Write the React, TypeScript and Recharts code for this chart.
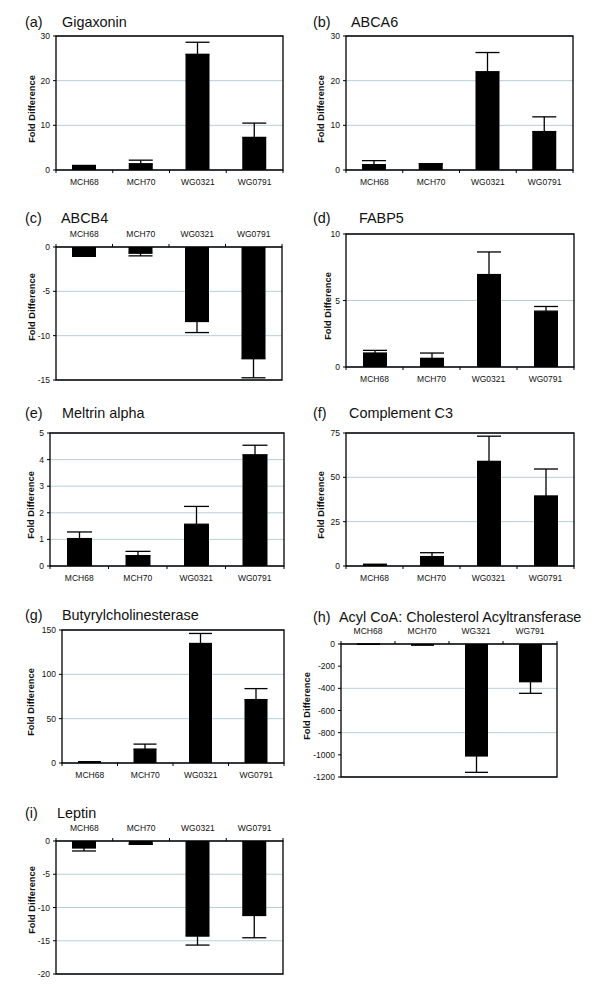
import React from "react";
import { BarChart, Bar, XAxis, YAxis, CartesianGrid, ErrorBar, ReferenceArea } from "recharts";

const samples = ["MCH68", "MCH70", "WG0321", "WG0791"];
const samplesAcat = ["MCH68", "MCH70", "WG321", "WG791"];

// fold differences and error (one-sided)
const gigaxonin = [1.0, 1.4, 25.9, 7.3];
const gigaxoninErr = [0, 0.8, 2.7, 3.2];
const abca6 = [1.2, 1.4, 22.0, 8.6];
const abca6Err = [0.9, 0, 4.3, 3.3];
const abcb4 = [-1.05, -0.7, -8.4, -12.6];
const abcb4Err = [0, 0.3, 1.25, 2.15];
const fabp5 = [1.05, 0.65, 6.95, 4.2];
const fabp5Err = [0.2, 0.4, 1.7, 0.35];
const meltrin = [1.03, 0.39, 1.57, 4.18];
const meltrinErr = [0.25, 0.16, 0.67, 0.36];
const complementC3 = [0.9, 5.3, 59, 39.5];
const complementC3Err = [0, 2.2, 14.2, 15.2];
const butyryl = [1.5, 15.7, 134.8, 71.5];
const butyrylErr = [0, 5.6, 11.3, 12.4];
const acat = [-2, -9, -1010, -340];
const acatErr = [0, 0, 148, 105];
const leptin = [-1.05, -0.5, -14.3, -11.2];
const leptinErr = [0.45, 0, 1.35, 3.35];

const ticksA = [0, 10, 20, 30];
const ticksC = [-15, -10, -5, 0];
const ticksD = [0, 5, 10];
const ticksE = [0, 1, 2, 3, 4, 5];
const ticksF = [0, 25, 50, 75];
const ticksG = [0, 50, 100, 150];
const ticksH = [-1200, -1000, -800, -600, -400, -200, 0];
const ticksI = [-20, -15, -10, -5, 0];

const FONT = "'Liberation Sans', Arial, Helvetica, sans-serif";
const GRID = "#b7cfdb";

type PanelProps = {
  tag: string;
  title: string;
  names: string[];
  values: number[];
  errors: number[];
  ticks: number[];
  left: number;
  top: number;
  width: number;
  height: number;
  tagX: number;
  titleX: number;
  titleY: number;
  labelX: number;
  labelY: number;
};

const titleStyle: React.CSSProperties = {
  position: "absolute",
  fontSize: 14.4,
  lineHeight: "15px",
  color: "#111",
  whiteSpace: "nowrap",
};

// category label plus the small Excel-style ticks between categories
function CategoryTick(props: any) {
  const { x, y, payload, index, band, neg, count } = props;
  const dir = neg ? -1 : 1;
  return (
    <g>
      <line x1={x - band / 2} x2={x - band / 2} y1={y} y2={y + dir * 3} stroke="#000" strokeWidth={1} />
      {index === count - 1 && (
        <line x1={x + band / 2} x2={x + band / 2} y1={y} y2={y + dir * 3} stroke="#000" strokeWidth={1} />
      )}
      <text x={x} y={neg ? y - 10 : y + 14.5} textAnchor="middle" fontSize={8.5} fill="#111">
        {payload.value}
      </text>
    </g>
  );
}

function Panel(p: PanelProps) {
  const neg = p.values.every((v) => v <= 0);
  const rows = p.names.map((name, i) => ({
    name,
    value: p.values[i],
    err: neg ? [p.errors[i], 0] : [0, p.errors[i]],
  }));
  const lo = p.ticks[0];
  const hi = p.ticks[p.ticks.length - 1];
  const band = p.width / p.names.length;
  const barSize = Math.round(band * 0.42);

  return (
    <>
      <div style={{ ...titleStyle, left: p.tagX, top: p.titleY - 12.5 }}>{p.tag}</div>
      <div style={{ ...titleStyle, left: p.titleX, top: p.titleY - 12.5 }}>{p.title}</div>
      <div
        style={{
          position: "absolute",
          left: p.labelX,
          top: p.labelY,
          transform: "translate(-50%, -50%) rotate(-90deg)",
          fontSize: 9.3,
          fontWeight: "bold",
          color: "#111",
          whiteSpace: "nowrap",
          lineHeight: "10px",
        }}
      >
        Fold Difference
      </div>
      <div style={{ position: "absolute", left: p.left - 60, top: p.top - 30 }}>
        <BarChart
          width={p.width + 70}
          height={p.height + 60}
          data={rows}
          margin={neg ? { top: 10, right: 10, bottom: 30, left: 0 } : { top: 30, right: 10, bottom: 10, left: 0 }}
          style={{ fontFamily: FONT }}
        >
          <CartesianGrid xAxisId="cat" yAxisId="y" vertical={false} stroke={GRID} strokeWidth={1} />
          <XAxis
            xAxisId="cat"
            dataKey="name"
            orientation={neg ? "top" : "bottom"}
            height={20}
            axisLine={false}
            tickLine={false}
            tickSize={0}
            tickMargin={0}
            interval={0}
            tick={<CategoryTick band={band} neg={neg} count={p.names.length} />}
          />
          <YAxis
            yAxisId="y"
            width={60}
            domain={[lo, hi]}
            ticks={p.ticks}
            allowDataOverflow
            axisLine={false}
            tickSize={3}
            tickMargin={3}
            tickLine={{ stroke: "#000" }}
            tick={{ fontSize: 8.5, fill: "#111" }}
          />
          <Bar dataKey="value" xAxisId="cat" yAxisId="y" fill="#000" barSize={barSize} isAnimationActive={false}>
            <ErrorBar dataKey="err" direction="y" width={barSize / 2} stroke="#000" strokeWidth={1.3} />
          </Bar>
          <ReferenceArea
            xAxisId="cat"
            yAxisId="y"
            y1={lo}
            y2={hi}
            fill="none"
            fillOpacity={0}
            stroke="#000"
            strokeWidth={1.3}
            ifOverflow="visible"
          />
        </BarChart>
      </div>
    </>
  );
}

export default function App() {
  return (
    <div style={{ position: "absolute", left: 0, top: 0, width: 600, height: 991, fontFamily: FONT, background: "#fff" }}>
      <Panel tag="(a)" title="Gigaxonin" names={samples} values={gigaxonin} errors={gigaxoninErr} ticks={ticksA}
        left={56} top={36} width={227} height={134} tagX={25} titleX={62} titleY={27} labelX={31.7} labelY={109} />
      <Panel tag="(b)" title="ABCA6" names={samples} values={abca6} errors={abca6Err} ticks={ticksA}
        left={346} top={36} width={227} height={134} tagX={313} titleX={351} titleY={27} labelX={321} labelY={109} />
      <Panel tag="(c)" title="ABCB4" names={samples} values={abcb4} errors={abcb4Err} ticks={ticksC}
        left={56} top={247} width={226} height={133} tagX={25} titleX={61} titleY={223} labelX={31.7} labelY={307} />
      <Panel tag="(d)" title="FABP5" names={samples} values={fabp5} errors={fabp5Err} ticks={ticksD}
        left={346} top={234} width={228} height={133} tagX={313} titleX={359} titleY={223} labelX={328} labelY={306} />
      <Panel tag="(e)" title="Meltrin alpha" names={samples} values={meltrin} errors={meltrinErr} ticks={ticksE}
        left={50} top={433} width={234} height={133} tagX={25} titleX={62} titleY={418} labelX={31} labelY={505} />
      <Panel tag="(f)" title="Complement C3" names={samples} values={complementC3} errors={complementC3Err} ticks={ticksF}
        left={346} top={433} width={228} height={133} tagX={313} titleX={349} titleY={418} labelX={321} labelY={505} />
      <Panel tag="(g)" title="Butyrylcholinesterase" names={samples} values={butyryl} errors={butyrylErr} ticks={ticksG}
        left={62} top={630} width={222} height={133} tagX={25} titleX={62} titleY={620} labelX={31} labelY={702} />
      <Panel tag="(h)" title="Acyl CoA: Cholesterol Acyltransferase" names={samplesAcat} values={acat} errors={acatErr} ticks={ticksH}
        left={341} top={644} width={216} height={133} tagX={313} titleX={339} titleY={622} labelX={307} labelY={706} />
      <Panel tag="(i)" title="Leptin" names={samples} values={leptin} errors={leptinErr} ticks={ticksI}
        left={56} top={841} width={227} height={133} tagX={25} titleX={57} titleY={818} labelX={31.7} labelY={900} />
    </div>
  );
}
